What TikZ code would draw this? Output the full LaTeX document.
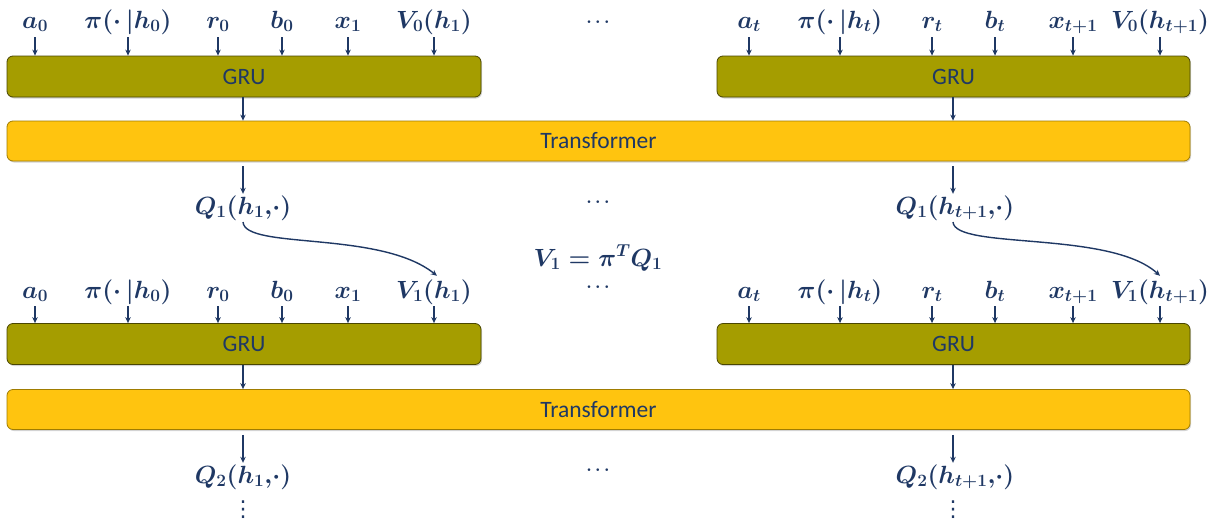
\documentclass[tikz,border=0pt]{standalone}
\usepackage{fontspec}
\setsansfont{Carlito}
\newfontfamily\djv{DejaVu Sans}
\usetikzlibrary{arrows.meta,shadows,calc}
\definecolor{navy}{HTML}{1F3864}
\definecolor{grufill}{HTML}{A59D00}
\definecolor{grubord}{HTML}{4A4600}
\definecolor{trfill}{HTML}{FFC40F}
\definecolor{trbord}{HTML}{A07C00}
\tikzset{
  lbl/.style={inner sep=0pt, text height=15pt, text depth=5pt, anchor=base, text=navy, font=\fontsize{25}{30}\selectfont\boldmath},
  dots/.style={inner sep=0pt, text=navy, font=\fontsize{25}{30}\selectfont\boldmath},
  hdots/.style={inner sep=0pt, text=navy, font=\fontsize{18}{22}\selectfont\boldmath},
  vdotsty/.style={inner sep=0pt, text=navy, font=\djv\fontsize{22}{26}\selectfont},
  boxbase/.style={rounded corners=6pt, line width=0.8pt, text=navy, font=\sffamily\fontsize{23.5}{28}\selectfont, inner sep=0pt,
     drop shadow={shadow xshift=1pt, shadow yshift=-1.5pt, opacity=0.35}},
  grubox/.style={boxbase, draw=grubord, fill=grufill, minimum height=41pt},
  trbox/.style={boxbase, draw=trbord, fill=trfill, minimum height=40pt, minimum width=1183pt},
  arr/.style={draw=navy, line width=1.4pt, -{Stealth[length=6pt,width=5.5pt]}}
}
\begin{document}
\begin{tikzpicture}[x=1pt,y=-1pt]
\useasboundingbox (0,0) rectangle (1212,522);

% ===== first block =====
\node[grubox, minimum width=474pt] (gA) at (244,76.5) {GRU};
\node[grubox, minimum width=473pt] (gB) at (953.5,76.5) {GRU};
\node[trbox] (tA) at (598.5,141) {Transformer};

\node[lbl] (a0) at (35,28) {$a_0$};
\node[lbl] (p0) at (128,28) {$\pi(\cdot\,|h_0)$};
\node[lbl] (r0) at (218,28) {$r_0$};
\node[lbl] (b0) at (282,28) {$b_0$};
\node[lbl] (x1) at (348,28) {$x_1$};
\node[lbl] (v01) at (434,28) {$V_0(h_1)$};

\node[lbl] (at) at (749,28) {$a_t$};
\node[lbl] (pt) at (840,28) {$\pi(\cdot\,|h_t)$};
\node[lbl] (rt) at (932,28) {$r_t$};
\node[lbl] (bt) at (995,28) {$b_t$};
\node[lbl] (xt) at (1073,28) {$x_{t+1}$};
\node[lbl] (v0t) at (1160,28) {$V_0(h_{t+1})$};

\node[hdots] (d1) at (598,22) {$\cdots$};

\foreach \n in {a0,p0,r0,b0,x1,v01}{
  \draw[arr] ([yshift=-9pt]\n.base) -- (\n.base |- gA.north);
}
\foreach \n in {at,pt,rt,bt,xt,v0t}{
  \draw[arr] ([yshift=-9pt]\n.base) -- (\n.base |- gB.north);
}
\coordinate (cA) at (243,0);
\coordinate (cB) at (953,0);
\draw[arr] (cA |- gA.south) -- (cA |- tA.north);
\draw[arr] (cB |- gB.south) -- (cB |- tA.north);

\node[lbl] (q1a) at (243,214) {$Q_1(h_1,\!\cdot)$};
\node[lbl] (q1b) at (955,214) {$Q_1(h_{t+1},\!\cdot)$};
\node[hdots] (d2) at (598,202) {$\cdots$};
\draw[arr] ([yshift=-5pt]cA |- tA.south) -- ([yshift=5pt]cA |- q1a.north);
\draw[arr] ([yshift=-5pt]cB |- tA.south) -- ([yshift=5pt]cB |- q1b.north);

\node[dots] (eq) at (598,258) {$V_1=\pi^T Q_1$};

% ===== second block =====
\node[grubox, minimum width=474pt] (gC) at (244,344) {GRU};
\node[grubox, minimum width=473pt] (gD) at (953.5,344) {GRU};
\node[trbox] (tB) at (598.5,409.5) {Transformer};

\node[lbl] (a0b) at (35,298) {$a_0$};
\node[lbl] (p0b) at (128,298) {$\pi(\cdot\,|h_0)$};
\node[lbl] (r0b) at (218,298) {$r_0$};
\node[lbl] (b0b) at (282,298) {$b_0$};
\node[lbl] (x1b) at (348,298) {$x_1$};
\node[lbl] (v11) at (434,298) {$V_1(h_1)$};

\node[lbl] (atb) at (749,298) {$a_t$};
\node[lbl] (ptb) at (840,298) {$\pi(\cdot\,|h_t)$};
\node[lbl] (rtb) at (932,298) {$r_t$};
\node[lbl] (btb) at (995,298) {$b_t$};
\node[lbl] (xtb) at (1073,298) {$x_{t+1}$};
\node[lbl] (v1t) at (1160,298) {$V_1(h_{t+1})$};

\node[hdots] (d3) at (598,287) {$\cdots$};

\foreach \n in {a0b,p0b,r0b,b0b,x1b,v11}{
  \draw[arr] ([yshift=-8pt]\n.base) -- (\n.base |- gC.north);
}
\foreach \n in {atb,ptb,rtb,btb,xtb,v1t}{
  \draw[arr] ([yshift=-8pt]\n.base) -- (\n.base |- gD.north);
}
\draw[arr] (cA |- gC.south) -- (cA |- tB.north);
\draw[arr] (cB |- gD.south) -- (cB |- tB.north);

\node[lbl] (q2a) at (243,483) {$Q_2(h_1,\!\cdot)$};
\node[lbl] (q2b) at (955,483) {$Q_2(h_{t+1},\!\cdot)$};
\node[hdots] (d4) at (598,470) {$\cdots$};
\draw[arr] ([yshift=-5pt]cA |- tB.south) -- ([yshift=5pt]cA |- q2a.north);
\draw[arr] ([yshift=-5pt]cB |- tB.south) -- ([yshift=5pt]cB |- q2b.north);

\node[vdotsty] (vd1) at (243,510) {⋮};
\node[vdotsty] (vd2) at (953,510) {⋮};

% curved arrows
\coordinate (sA) at (243,222);
\coordinate (sB) at (953,222);
\draw[arr] (sA) .. controls (245,250) and (380,230) .. ([xshift=3pt,yshift=7pt]v11.north);
\draw[arr] (sB) .. controls (955,250) and (1110,230) .. ([yshift=7pt]v1t.north);
\end{tikzpicture}
\end{document}
